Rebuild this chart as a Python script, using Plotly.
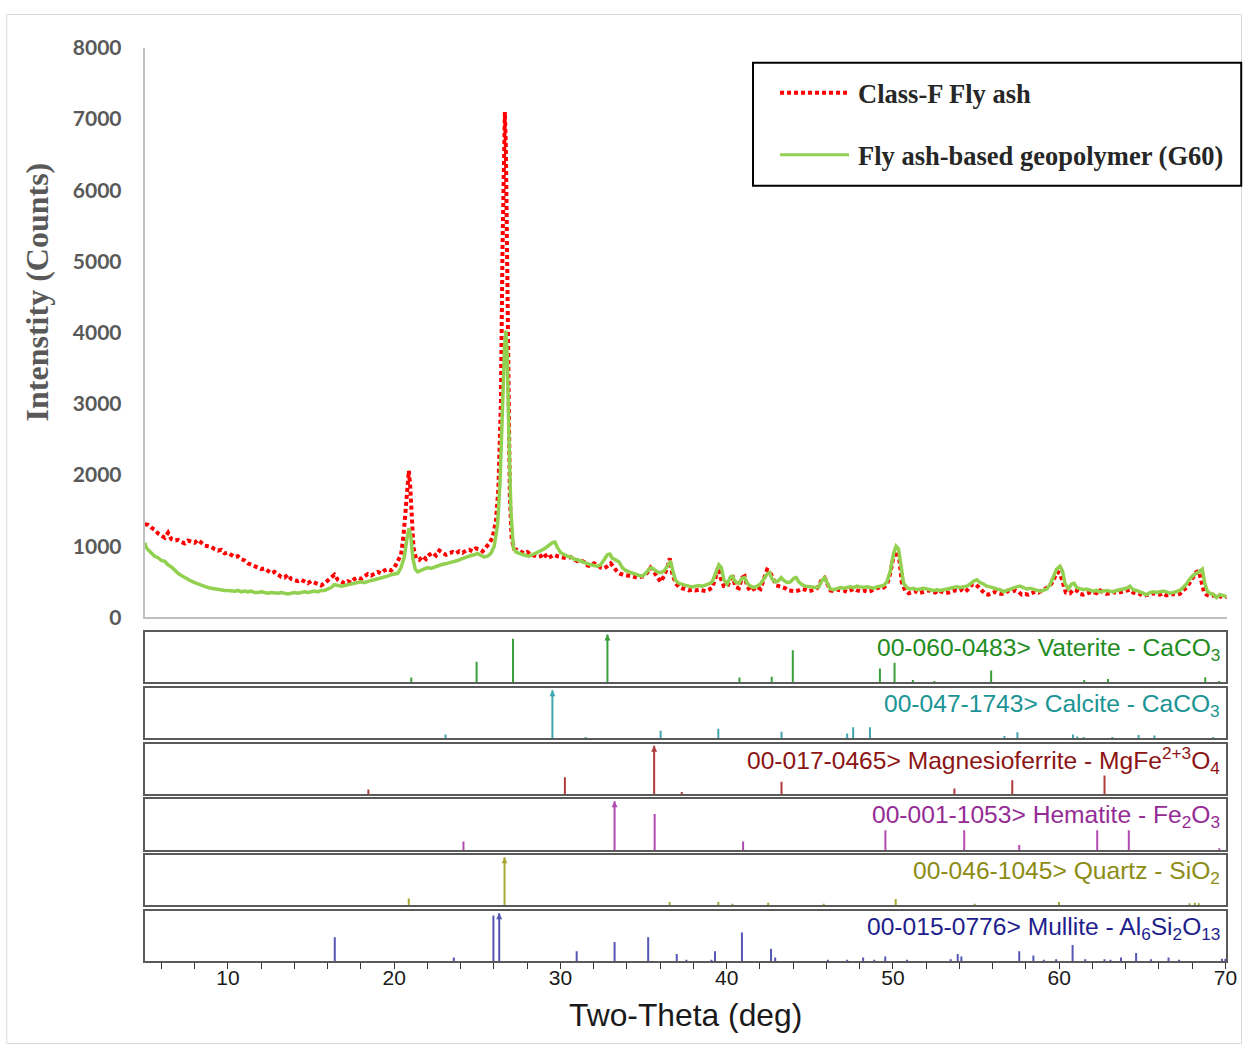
import plotly.graph_objects as go

W, H = 1253, 1055

# ---- XRD pattern: Class-F fly ash (2-theta in degrees, counts) ----
two_theta_fa = [
    5.0, 5.2, 5.4, 5.6, 5.8, 6.0, 6.2, 6.4, 6.6, 6.8, 7.0, 7.2, 7.4, 7.6, 7.8, 8.0, 8.2, 8.4, 8.6, 8.8,
    9.0, 9.2, 9.4, 9.6, 9.8, 10.0, 10.2, 10.4, 10.6, 10.8, 11.0, 11.2, 11.4, 11.6, 11.8, 12.0, 12.2, 12.4,
    12.6, 12.8, 13.0, 13.2, 13.4, 13.6, 13.8, 14.0, 14.2, 14.4, 14.6, 14.8, 15.0, 15.2, 15.4, 15.6, 15.8,
    16.0, 16.2, 16.4, 16.6, 16.8, 17.0, 17.2, 17.4, 17.6, 17.8, 18.0, 18.2, 18.4, 18.6, 18.8, 19.0, 19.2,
    19.4, 19.6, 19.8, 20.0, 20.2, 20.4, 20.55, 20.7, 20.8, 20.87, 20.95, 21.05, 21.15, 21.3, 21.5, 21.7,
    21.9, 22.1, 22.3, 22.5, 22.7, 22.9, 23.1, 23.3, 23.5, 23.7, 23.9, 24.1, 24.3, 24.5, 24.7, 24.9, 25.1,
    25.3, 25.5, 25.7, 25.9, 26.1, 26.25, 26.4, 26.5, 26.58, 26.64, 26.7, 26.78, 26.86, 26.94, 27.05, 27.2,
    27.4, 27.6, 27.8, 28.0, 28.2, 28.4, 28.6, 28.8, 29.0, 29.2, 29.4, 29.6, 29.8, 30.0, 30.2, 30.4, 30.6,
    30.8, 31.0, 31.2, 31.4, 31.6, 31.8, 32.0, 32.2, 32.4, 32.6, 32.8, 33.0, 33.2, 33.4, 33.6, 33.8, 34.0,
    34.2, 34.4, 34.6, 34.8, 35.0, 35.2, 35.4, 35.6, 35.8, 36.0, 36.2, 36.4, 36.55, 36.7, 36.9, 37.1, 37.3,
    37.5, 37.7, 37.9, 38.1, 38.3, 38.5, 38.7, 38.9, 39.1, 39.3, 39.45, 39.6, 39.8, 40.0, 40.2, 40.35, 40.5,
    40.7, 40.9, 41.05, 41.2, 41.4, 41.6, 41.8, 42.0, 42.2, 42.4, 42.55, 42.75, 42.95, 43.1, 43.3, 43.5,
    43.7, 43.9, 44.1, 44.3, 44.5, 44.7, 44.9, 45.1, 45.3, 45.5, 45.7, 45.85, 46.0, 46.2, 46.4, 46.6, 46.8,
    47.0, 47.2, 47.4, 47.6, 47.8, 48.0, 48.2, 48.4, 48.6, 48.8, 49.0, 49.2, 49.4, 49.6, 49.8, 50.0, 50.2,
    50.35, 50.5, 50.7, 50.9, 51.1, 51.3, 51.5, 51.7, 51.9, 52.1, 52.3, 52.5, 52.7, 52.9, 53.1, 53.3, 53.5,
    53.7, 53.9, 54.1, 54.3, 54.5, 54.7, 54.9, 55.1, 55.3, 55.5, 55.7, 55.9, 56.1, 56.3, 56.5, 56.7, 56.9,
    57.1, 57.3, 57.5, 57.7, 57.9, 58.1, 58.3, 58.5, 58.7, 58.9, 59.1, 59.3, 59.5, 59.7, 59.85, 60.0, 60.15,
    60.35, 60.6, 60.8, 61.0, 61.2, 61.4, 61.6, 61.8, 62.0, 62.2, 62.4, 62.6, 62.8, 63.0, 63.2, 63.4, 63.6,
    63.8, 64.0, 64.2, 64.4, 64.6, 64.8, 65.0, 65.2, 65.4, 65.6, 65.8, 66.0, 66.2, 66.4, 66.6, 66.8, 67.0,
    67.2, 67.4, 67.6, 67.8, 68.0, 68.2, 68.35, 68.5, 68.65, 68.8, 69.0, 69.2, 69.4, 69.6, 69.8, 70.0,
]
counts_fa = [
    1310, 1300, 1260, 1230, 1180, 1150, 1120, 1190, 1100, 1080, 1090, 1060, 1040, 1080, 1070, 1050, 1090,
    1040, 1010, 1000, 990, 960, 940, 950, 900, 910, 880, 850, 860, 820, 800, 760, 740, 720, 700, 680, 690,
    650, 620, 640, 600, 570, 560, 600, 540, 520, 510, 530, 500, 480, 510, 490, 470, 450, 480, 520, 560,
    600, 530, 500, 480, 510, 490, 540, 560, 540, 580, 610, 590, 620, 640, 620, 660, 680, 660, 700, 780,
    880, 1150, 1650, 1950, 2060, 1850, 1350, 980, 830, 810, 860, 820, 880, 910, 870, 940, 910, 880, 900,
    920, 900, 930, 910, 940, 950, 930, 970, 960, 930, 980, 1040, 1120, 1350, 1800, 3000, 5200, 6800, 7100,
    6600, 5000, 3000, 1700, 1100, 960, 950, 930, 900, 920, 880, 870, 850, 860, 900, 830, 850, 880, 860,
    850, 840, 830, 850, 820, 790, 800, 780, 730, 720, 760, 740, 700, 690, 720, 760, 700, 640, 610, 600,
    580, 570, 560, 560, 570, 580, 630, 700, 640, 560, 500, 580, 700, 830, 620, 480, 430, 410, 400, 380,
    390, 380, 390, 380, 370, 390, 420, 560, 700, 560, 440, 430, 540, 560, 430, 410, 560, 580, 440, 370,
    400, 430, 400, 520, 670, 650, 560, 450, 440, 430, 410, 380, 370, 370, 380, 400, 390, 370, 380, 390,
    440, 540, 560, 470, 380, 370, 390, 380, 380, 360, 380, 400, 380, 370, 380, 360, 370, 390, 420, 430,
    420, 460, 620, 860, 930, 800, 480, 380, 340, 350, 370, 340, 350, 370, 380, 360, 350, 380, 360, 340,
    350, 360, 380, 370, 390, 360, 400, 460, 470, 430, 370, 330, 320, 340, 360, 340, 330, 350, 370, 360,
    380, 360, 320, 330, 320, 340, 360, 350, 380, 400, 430, 480, 560, 640, 620, 520, 350, 340, 390, 380,
    330, 320, 340, 350, 360, 340, 380, 360, 330, 340, 360, 340, 350, 360, 370, 390, 350, 340, 330, 300,
    310, 320, 340, 330, 320, 340, 310, 320, 330, 320, 330, 380, 420, 490, 560, 640, 650, 480, 360, 320,
    300, 310, 290, 300, 280, 290,
]

# ---- XRD pattern: fly ash-based geopolymer (G60) ----
two_theta_g60 = [
    5.0, 5.1, 5.2, 5.4, 5.6, 5.8, 6.0, 6.2, 6.4, 6.6, 6.8, 7.0, 7.2, 7.4, 7.6, 7.8, 8.0, 8.2, 8.4, 8.6,
    8.8, 9.0, 9.2, 9.4, 9.6, 9.8, 10.0, 10.2, 10.4, 10.6, 10.8, 11.0, 11.2, 11.4, 11.6, 11.8, 12.0, 12.2,
    12.4, 12.6, 12.8, 13.0, 13.2, 13.4, 13.6, 13.8, 14.0, 14.2, 14.4, 14.6, 14.8, 15.0, 15.2, 15.4, 15.6,
    15.8, 16.0, 16.2, 16.4, 16.6, 16.8, 17.0, 17.2, 17.4, 17.6, 17.8, 18.0, 18.2, 18.4, 18.6, 18.8, 19.0,
    19.2, 19.4, 19.6, 19.8, 20.0, 20.2, 20.4, 20.6, 20.75, 20.88, 21.0, 21.1, 21.25, 21.4, 21.6, 21.8,
    22.0, 22.2, 22.4, 22.6, 22.8, 23.0, 23.2, 23.4, 23.6, 23.8, 24.0, 24.2, 24.4, 24.6, 24.8, 25.0, 25.2,
    25.4, 25.6, 25.8, 26.0, 26.2, 26.35, 26.5, 26.62, 26.7, 26.78, 26.88, 27.0, 27.15, 27.3, 27.5, 27.7,
    27.9, 28.1, 28.3, 28.5, 28.7, 28.9, 29.1, 29.3, 29.5, 29.65, 29.8, 30.0, 30.2, 30.4, 30.6, 30.8, 31.0,
    31.2, 31.4, 31.6, 31.8, 32.0, 32.2, 32.4, 32.6, 32.8, 32.95, 33.1, 33.3, 33.5, 33.7, 33.9, 34.1, 34.3,
    34.5, 34.7, 34.9, 35.1, 35.3, 35.45, 35.6, 35.8, 36.0, 36.2, 36.4, 36.6, 36.75, 36.9, 37.1, 37.3,
    37.5, 37.7, 37.9, 38.1, 38.3, 38.5, 38.7, 38.9, 39.1, 39.3, 39.5, 39.65, 39.8, 40.0, 40.2, 40.3, 40.5,
    40.7, 40.9, 41.05, 41.2, 41.4, 41.6, 41.8, 42.0, 42.2, 42.4, 42.55, 42.7, 42.9, 43.1, 43.25, 43.4,
    43.6, 43.8, 44.0, 44.15, 44.3, 44.5, 44.7, 44.9, 45.1, 45.3, 45.5, 45.7, 45.85, 46.0, 46.2, 46.4,
    46.6, 46.8, 47.0, 47.2, 47.4, 47.6, 47.8, 48.0, 48.2, 48.4, 48.6, 48.8, 49.0, 49.2, 49.4, 49.6, 49.8,
    50.0, 50.15, 50.3, 50.45, 50.6, 50.8, 51.0, 51.2, 51.4, 51.6, 51.8, 52.0, 52.2, 52.4, 52.6, 52.8,
    53.0, 53.2, 53.4, 53.6, 53.8, 54.0, 54.2, 54.4, 54.6, 54.8, 55.0, 55.2, 55.4, 55.6, 55.8, 56.0, 56.2,
    56.4, 56.6, 56.8, 57.0, 57.2, 57.4, 57.6, 57.8, 58.0, 58.2, 58.4, 58.6, 58.8, 59.0, 59.2, 59.4, 59.6,
    59.8, 60.0, 60.15, 60.3, 60.5, 60.7, 60.85, 61.0, 61.2, 61.4, 61.6, 61.8, 62.0, 62.2, 62.4, 62.6,
    62.8, 63.0, 63.2, 63.4, 63.6, 63.8, 64.0, 64.2, 64.4, 64.6, 64.8, 65.0, 65.2, 65.4, 65.6, 65.8, 66.0,
    66.2, 66.4, 66.6, 66.8, 67.0, 67.2, 67.4, 67.6, 67.8, 68.0, 68.2, 68.4, 68.55, 68.7, 68.85, 69.0,
    69.2, 69.4, 69.6, 69.8, 70.0,
]
counts_g60 = [
    1050, 980, 950, 900, 860, 840, 800, 790, 740, 710, 660, 620, 590, 560, 540, 510, 490, 470, 450, 440,
    420, 410, 400, 390, 390, 380, 380, 370, 370, 380, 360, 370, 360, 370, 350, 350, 360, 350, 340, 350,
    340, 340, 350, 340, 330, 340, 350, 340, 350, 360, 350, 360, 370, 360, 380, 380, 400, 420, 460, 450,
    440, 450, 460, 470, 470, 490, 500, 490, 510, 520, 530, 540, 550, 560, 580, 600, 610, 620, 700, 850,
    1100, 1250, 1120, 850, 680, 640, 660, 680, 700, 690, 710, 720, 740, 750, 760, 770, 790, 800, 820, 840,
    850, 870, 880, 900, 870, 850, 860, 900, 1000, 1300, 1900, 3000, 3800, 4030, 3700, 2600, 1500, 980,
    920, 900, 880, 870, 860, 880, 900, 920, 950, 980, 1020, 1050, 1060, 980, 910, 880, 860, 850, 820,
    810, 790, 770, 750, 740, 730, 720, 740, 800, 880, 890, 830, 810, 780, 700, 660, 640, 630, 610, 590,
    580, 620, 680, 700, 680, 640, 630, 650, 720, 790, 640, 520, 480, 460, 450, 440, 430, 440, 450, 440,
    450, 470, 500, 620, 740, 700, 530, 470, 570, 580, 500, 480, 550, 560, 480, 440, 420, 440, 470, 540,
    610, 630, 540, 500, 520, 560, 520, 490, 500, 550, 560, 500, 460, 440, 430, 420, 420, 430, 520, 560,
    480, 400, 390, 400, 420, 410, 420, 430, 420, 440, 430, 420, 430, 420, 410, 430, 440, 450, 500, 650,
    900, 1000, 960, 700, 480, 420, 400, 410, 390, 400, 410, 400, 390, 380, 390, 380, 390, 400, 410, 420,
    430, 420, 430, 440, 470, 510, 530, 490, 470, 440, 430, 410, 400, 390, 360, 380, 400, 420, 430, 440,
    420, 400, 410, 400, 380, 370, 380, 400, 460, 560, 680, 720, 650, 480, 400, 470, 480, 420, 400, 390,
    400, 380, 370, 380, 360, 370, 380, 370, 360, 380, 390, 400, 410, 440, 390, 380, 360, 340, 320, 350,
    360, 350, 360, 370, 360, 340, 350, 360, 380, 420, 470, 540, 590, 620, 660, 680, 480, 370, 340, 330,
    280, 320, 310, 290,
]

# ---- Reference stick patterns (2-theta, relative intensity %) ----
vaterite_pos = [21.03, 24.96, 27.15, 32.83, 40.77, 42.71, 43.98, 49.22, 50.10, 51.20, 52.49, 55.91,
                61.51, 62.94, 68.79, 69.63]
vaterite_int = [10, 43, 91, 100, 10, 12, 67, 29, 41, 5, 3, 25, 5, 7, 11, 3]

calcite_pos = [23.09, 29.52, 31.52, 36.03, 39.50, 43.30, 47.25, 47.61, 48.62, 56.71, 57.49, 60.83,
               61.09, 61.47, 63.20, 64.78, 65.73, 69.27]
calcite_int = [8, 100, 3, 16, 20, 14, 10, 23, 23, 5, 13, 8, 4, 3, 3, 7, 6, 3]

magnesioferrite_pos = [18.45, 30.27, 35.64, 37.30, 43.30, 53.70, 57.18, 62.73]
magnesioferrite_int = [10, 35, 100, 5, 26, 12, 29, 39]

hematite_pos = [24.17, 33.26, 35.67, 40.99, 49.55, 54.29, 57.60, 62.29, 64.19, 69.63]
hematite_int = [18, 100, 74, 18, 41, 41, 11, 41, 41, 4]

quartz_pos = [20.88, 26.64, 36.57, 39.50, 40.35, 42.50, 45.84, 50.17, 54.92, 59.99, 67.84, 68.16, 68.40]
quartz_int = [14, 100, 7, 7, 3, 5, 3, 13, 3, 7, 4, 5, 4]

mullite_pos = [16.43, 23.59, 25.97, 26.32, 30.98, 33.26, 35.28, 37.00, 37.58, 39.09, 39.30, 40.92,
               42.67, 42.92, 46.09, 47.25, 48.21, 48.88, 49.54, 50.85, 53.48, 53.90, 54.12, 57.60,
               58.45, 59.08, 59.82, 60.81, 61.57, 62.73, 63.09, 63.72, 64.63, 65.52, 66.58, 67.21,
               69.79, 70.00]
mullite_int = [50, 8, 95, 100, 21, 40, 50, 15, 3, 3, 21, 60, 26, 8, 3, 3, 8, 3, 10, 3, 4, 15, 10, 21,
               12, 3, 4, 34, 4, 4, 3, 8, 17, 4, 8, 3, 5, 5]

phase_labels = [
    "00-060-0483> Vaterite - CaCO<sub>3</sub>",
    "00-047-1743> Calcite - CaCO<sub>3</sub>",
    "00-017-0465> Magnesioferrite - MgFe<sup>2+3</sup>O<sub>4</sub>",
    "00-001-1053> Hematite - Fe<sub>2</sub>O<sub>3</sub>",
    "00-046-1045> Quartz - SiO<sub>2</sub>",
    "00-015-0776> Mullite - Al<sub>6</sub>Si<sub>2</sub>O<sub>13</sub>",
]

x_tick_values = [10, 20, 30, 40, 50, 60, 70]
y_tick_values = [0, 1000, 2000, 3000, 4000, 5000, 6000, 7000, 8000]

phases = [
    (vaterite_pos, vaterite_int, "#1e8c1e", "#3aa03a"),
    (calcite_pos, calcite_int, "#1a9494", "#3fa7b0"),
    (magnesioferrite_pos, magnesioferrite_int, "#8c1414", "#b03a3a"),
    (hematite_pos, hematite_int, "#952b95", "#b24ab2"),
    (quartz_pos, quartz_int, "#8c8c14", "#a9a833"),
    (mullite_pos, mullite_int, "#1e1e8c", "#5656b6"),
]

# layout positions in canvas pixels (top, bottom) of the six stick panels
panel_px = [(632, 682), (688, 738), (743.5, 794), (799, 850), (855, 905), (911, 961)]

XRANGE = [5, 70.05]

# the rendered canvas is mapped slightly inward; these factors undo that mapping
SX, OX = 0.9908, -0.7
SY, OY = 0.977, 13.1


def px_x(p):
    return min(max((p - OX) / SX, 0.5), W - 0.5) / W


def px_y(p):
    return 1 - min(max((p - OY) / SY, 0.5), H - 0.5) / H


X0, X1 = 144, 1226

fig = go.Figure()

# main diffraction patterns
fig.add_trace(go.Scatter(
    x=two_theta_fa, y=counts_fa, mode="lines", name="Class-F Fly ash",
    line=dict(color="#ff0000", width=4, dash="4px,3px"),
    xaxis="x", yaxis="y", showlegend=False,
))
fig.add_trace(go.Scatter(
    x=two_theta_g60, y=counts_g60, mode="lines", name="Fly ash-based geopolymer (G60)",
    line=dict(color="#92d050", width=3.5),
    xaxis="x", yaxis="y", showlegend=False,
))

layout_axes = {}
layout_axes["xaxis"] = dict(
    domain=[px_x(X0), px_x(X1)], range=XRANGE, anchor="y",
    showline=True, linecolor="#bfbfbf", linewidth=2, ticks="",
    showticklabels=False, showgrid=False, zeroline=False,
)
layout_axes["yaxis"] = dict(
    domain=[px_y(617), px_y(47)], range=[0, 8000], anchor="x",
    showline=True, linecolor="#bfbfbf", linewidth=2, ticks="",
    tickvals=y_tick_values, ticklabelstandoff=17,
    tickfont=dict(family="Lato", size=21, color="#595959", weight="bold"),
    showgrid=False, zeroline=False,
)

annotations = []
for i, ((pos, inten, text_col, stick_col), (top, bot)) in enumerate(zip(phases, panel_px)):
    k = i + 2
    xs, ys = [], []
    for p, v in zip(pos, inten):
        xs += [p, p, None]
        ys += [0, v, None]
    fig.add_trace(go.Scatter(
        x=xs, y=ys, mode="lines", line=dict(color=stick_col, width=2),
        xaxis=f"x{k}", yaxis=f"y{k}", showlegend=False, hoverinfo="skip",
    ))
    # arrowhead on the strongest reflection of each card
    tops = [(p, v) for p, v in zip(pos, inten) if v == max(inten)]
    fig.add_trace(go.Scatter(
        x=[t[0] for t in tops], y=[t[1] for t in tops], mode="markers",
        marker=dict(symbol="arrow-up", size=6, color=stick_col),
        xaxis=f"x{k}", yaxis=f"y{k}", showlegend=False, hoverinfo="skip",
    ))
    last = i == len(phases) - 1
    xa = dict(
        domain=[px_x(X0), px_x(X1 - 1)], range=XRANGE, anchor=f"y{k}", matches="x",
        showline=True, mirror=True, linecolor="#5a5a5a", linewidth=2,
        showgrid=False, zeroline=False,
    )
    if last:
        xa.update(
            tickvals=x_tick_values, ticks="outside", ticklen=6, tickwidth=1,
            tickcolor="#333333", showticklabels=True, ticklabelstandoff=-9,
            tickfont=dict(family="Liberation Sans", size=21, color="#1a1a1a"),
            minor=dict(dtick=2, tick0=0, ticks="outside", ticklen=6, tickwidth=1, tickcolor="#333333"),
        )
    else:
        xa.update(ticks="", showticklabels=False)
    layout_axes[f"xaxis{k}"] = xa
    layout_axes[f"yaxis{k}"] = dict(
        domain=[px_y(bot), px_y(top)], range=[0, 104], anchor=f"x{k}",
        showline=True, mirror=True, linecolor="#5a5a5a", linewidth=2,
        ticks="", showticklabels=False, showgrid=False, zeroline=False,
    )
    annotations.append(dict(
        text=phase_labels[i], xref="paper", yref="paper",
        x=px_x(1221), y=px_y(top + 17), xanchor="right", yanchor="middle",
        showarrow=False, font=dict(family="Liberation Sans", size=24.6, color=text_col),
    ))

# axis titles
annotations.append(dict(
    text="Intenstity (Counts)", xref="paper", yref="paper",
    x=px_x(36), y=px_y(291), xanchor="center", yanchor="middle", textangle=-90,
    showarrow=False, font=dict(family="Liberation Serif", size=32, color="#595959", weight="bold"),
))
annotations.append(dict(
    text="Two-Theta (deg)", xref="paper", yref="paper",
    x=px_x(685), y=px_y(1015), xanchor="center", yanchor="middle",
    showarrow=False, font=dict(family="Liberation Sans", size=31.8, color="#1a1a1a"),
))

# legend block
annotations.append(dict(
    text="Class-F Fly ash", xref="paper", yref="paper",
    x=px_x(855), y=px_y(93), xanchor="left", yanchor="middle",
    showarrow=False, font=dict(family="Liberation Serif", size=26.5, color="#262626", weight="bold"),
))
annotations.append(dict(
    text="Fly ash-based geopolymer (G60)", xref="paper", yref="paper",
    x=px_x(855), y=px_y(155), xanchor="left", yanchor="middle",
    showarrow=False, font=dict(family="Liberation Serif", size=26.5, color="#262626", weight="bold"),
))

shapes = [
    dict(type="rect", xref="paper", yref="paper", x0=px_x(6), x1=px_x(1250), y0=px_y(1052), y1=px_y(4),
         line=dict(color="#d9d9d9", width=1), layer="below"),
    dict(type="rect", xref="paper", yref="paper", x0=px_x(752), x1=px_x(1240), y0=px_y(185), y1=px_y(62),
         line=dict(color="#000000", width=2), fillcolor="white"),
    dict(type="line", xref="paper", yref="paper", x0=px_x(779), x1=px_x(848), y0=px_y(92), y1=px_y(92),
         line=dict(color="#ff0000", width=4, dash="4px,3px")),
    dict(type="line", xref="paper", yref="paper", x0=px_x(779), x1=px_x(848), y0=px_y(154), y1=px_y(154),
         line=dict(color="#92d050", width=3)),
]

fig.update_layout(
    width=W, height=H,
    margin=dict(l=0, r=0, t=0, b=0),
    paper_bgcolor="white", plot_bgcolor="white",
    showlegend=False,
    annotations=annotations,
    shapes=shapes,
    **layout_axes,
)

fig.write_html("out.html")
